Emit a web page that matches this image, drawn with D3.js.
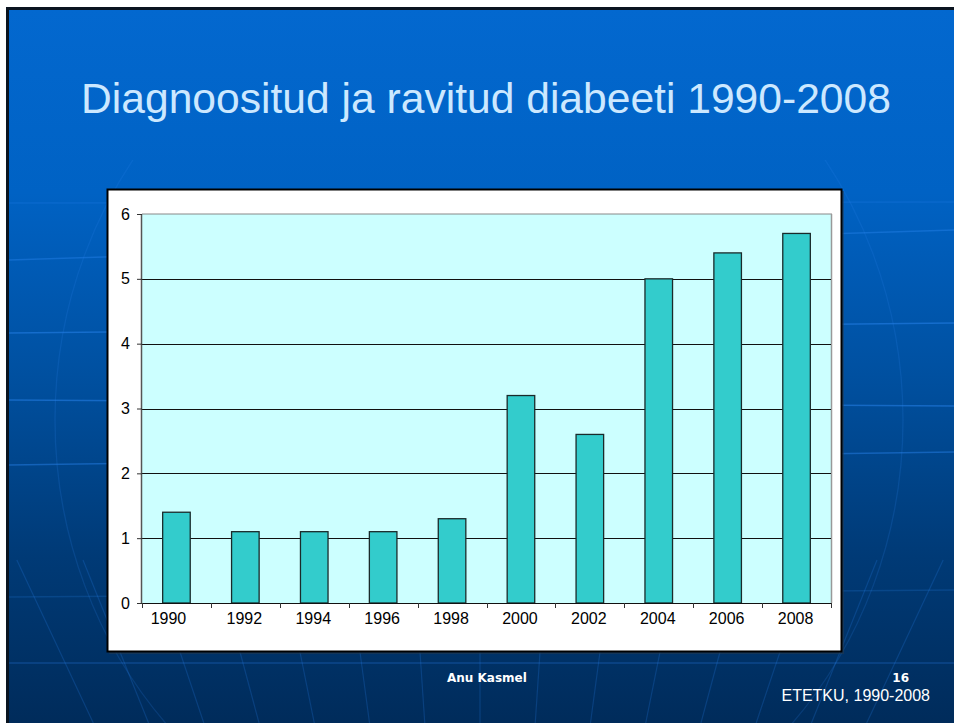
<!DOCTYPE html>
<html><head><meta charset="utf-8">
<script src="https://cdn.jsdelivr.net/npm/d3@7"></script>
<style>html,body{margin:0;padding:0;background:#fff;overflow:hidden}</style>
</head><body>
<svg id="c" width="954" height="723"></svg>
<script>
const years = ["1990","1992","1994","1996","1998","2000","2002","2004","2006","2008"];
const values = [1.4, 1.1, 1.1, 1.1, 1.3, 3.2, 2.6, 5.0, 5.4, 5.7];
const yTicks = [0, 1, 2, 3, 4, 5, 6];
const titleText = "Diagnoositud ja ravitud diabeeti 1990-2008";
const footerAuthor = "Anu Kasmel";
const footerPage = "16";
const footerSource = "ETETKU, 1990-2008";

const svg = d3.select("#c");
const defs = svg.append("defs");
const g = defs.append("linearGradient").attr("id","bg").attr("x1",0).attr("y1",0).attr("x2",0).attr("y2",1);
[[0,"#0368cf"],[0.25,"#0062c4"],[0.5,"#0050a0"],[0.75,"#003a76"],[1,"#002a58"]].forEach(s=>g.append("stop").attr("offset",s[0]).attr("stop-color",s[1]));
defs.append("clipPath").attr("id","lowclip").append("rect").attr("x",0).attr("y",160).attr("width",954).attr("height",600);

// slide
svg.append("rect").attr("x",6).attr("y",7).attr("width",960).attr("height",730).attr("fill","#0a1420");
svg.append("rect").attr("x",9).attr("y",10).attr("width",960).attr("height",730).attr("fill","url(#bg)");

// decorative globe lines
const deco = svg.append("g").attr("fill","none").attr("stroke","#2a86f0");
const hl = [[203,202,0.22],[260,230,0.4],[333,323,0.5],[400,406,0.5],[465,452,0.45],[597,590,0.2],[663,663,0.28]];
hl.forEach(h=>deco.append("line").attr("x1",9).attr("y1",h[0]).attr("x2",954).attr("y2",h[1]).attr("stroke-opacity",h[2]).attr("stroke-width",1.5));
deco.append("ellipse").attr("clip-path","url(#lowclip)").attr("cx",479).attr("cy",420).attr("rx",424).attr("ry",450).attr("stroke-opacity",0.18).attr("stroke-width",1.3);
for(let k=-7;k<=7;k++){
  const xt = 480 + k*60;
  const Y0 = 1547;
  const yTop = 560;
  const xTop = 480 + (xt-480)*(Y0-yTop)/(Y0-652);
  deco.append("line").attr("x1",xTop).attr("y1",yTop).attr("x2",480+(xt-480)*(Y0-723)/(Y0-652)).attr("y2",723)
    .attr("stroke-opacity",0.22).attr("stroke-width",1.2);
}

// title
svg.append("text").attr("x",486).attr("y",113).attr("text-anchor","middle")
  .attr("font-family","Liberation Sans, Arial, sans-serif").attr("font-size",42.6)
  .attr("fill","#cce8ff").text(titleText);

// chart box
svg.append("rect").attr("x",109).attr("y",191).attr("width",735).attr("height",463).attr("fill","#2a3a4a").attr("opacity",0.5);
svg.append("rect").attr("x",107.5).attr("y",189.5).attr("width",734).attr("height",462).attr("fill","#fff").attr("stroke","#000").attr("stroke-width",2);

const L=142, R=831, T=214, B=603;
const x = d3.scaleBand().domain(years).range([L,R]).paddingInner(0.6).paddingOuter(0.3);
const xb = d3.scaleBand().domain(years).range([L,R]);
const y = d3.scaleLinear().domain([0,6]).range([B,T]);

svg.append("rect").attr("x",L).attr("y",T).attr("width",R-L).attr("height",B-T).attr("fill","#ccffff");
svg.append("line").attr("x1",L).attr("x2",R+1).attr("y1",T).attr("y2",T).attr("stroke","#888").attr("stroke-width",1);
svg.append("line").attr("x1",R+0.5).attr("x2",R+0.5).attr("y1",T).attr("y2",B).attr("stroke","#999").attr("stroke-width",1.5);

// gridlines
svg.append("g").selectAll("line").data(yTicks.filter(v=>v>0 && v<6)).join("line")
  .attr("x1",L).attr("x2",R).attr("y1",d=>Math.round(y(d))+0.5).attr("y2",d=>Math.round(y(d))+0.5)
  .attr("stroke","#111").attr("stroke-width",1);

// bars
svg.append("g").selectAll("rect").data(values).join("rect")
  .attr("x",(d,i)=>x(years[i])).attr("width",x.bandwidth())
  .attr("y",d=>y(d)).attr("height",d=>B-y(d))
  .attr("fill","#33cccc").attr("stroke","#1a2a2a").attr("stroke-width",1.3);

// y axis
const ya = svg.append("g").attr("transform",`translate(${L},0)`)
  .call(d3.axisLeft(y).tickValues(yTicks).tickSize(5).tickPadding(7).tickFormat(d3.format("d")));
ya.select(".domain").attr("stroke","#555").attr("stroke-width",1.5).attr("d",`M-0.5,${T}V${B}`);
ya.selectAll(".tick line").attr("stroke","#333");
ya.selectAll("text").attr("font-family","Liberation Sans, Arial, sans-serif").attr("font-size",16).attr("fill","#000");

// x axis
const xa = svg.append("g").attr("transform",`translate(0,${B})`)
  .call(d3.axisBottom(x).tickSize(0).tickPadding(10));
xa.select(".domain").attr("stroke","#111").attr("stroke-width",1.2).attr("d",`M${L},0.5H${R}`);
xa.selectAll("text").attr("font-family","Liberation Sans, Arial, sans-serif").attr("font-size",16).attr("fill","#000")
  .attr("dx",(d,i)=> i===0 ? -8 : -1);
const bounds = years.map(v=>xb(v)).concat([R]);
xa.append("g").selectAll("line").data(bounds).join("line")
  .attr("x1",d=>Math.round(d)+0.5).attr("x2",d=>Math.round(d)+0.5).attr("y1",0).attr("y2",5)
  .attr("stroke","#333").attr("stroke-width",1);

// footer
svg.append("text").attr("x",447).attr("y",682).attr("font-family","DejaVu Sans, sans-serif").attr("font-weight","bold")
  .attr("font-size",12).attr("fill","#fff").text(footerAuthor);
svg.append("text").attr("x",909).attr("y",682).attr("text-anchor","end").attr("font-family","DejaVu Sans, sans-serif").attr("font-weight","bold")
  .attr("font-size",12).attr("fill","#fff").text(footerPage);
svg.append("text").attr("x",930).attr("y",701).attr("text-anchor","end").attr("font-family","Liberation Sans, Arial, sans-serif")
  .attr("font-size",16).attr("fill","#fff").text(footerSource);
</script>
</body></html>
